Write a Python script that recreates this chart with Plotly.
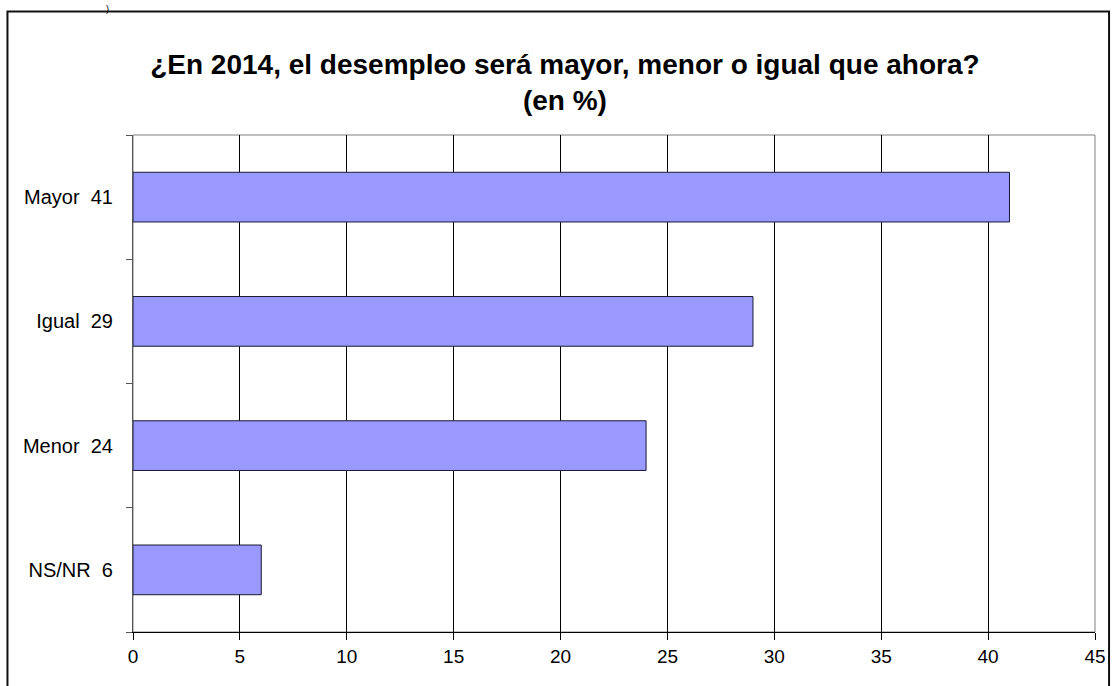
import plotly.graph_objects as go

categories = ["Mayor", "Igual", "Menor", "NS/NR"]
values = [41, 29, 24, 6]
tick_labels = [c + "\u00a0\u00a0" + str(v) for c, v in zip(categories, values)]

x_ticks = [0, 5, 10, 15, 20, 25, 30, 35, 40, 45]

fig = go.Figure()
fig.add_trace(go.Bar(
    x=values,
    y=tick_labels,
    orientation="h",
    marker=dict(color="#9999FF", line=dict(color="#1a1a33", width=1)),
    width=0.4,
))

fig.update_layout(
    width=1112,
    height=686,
    margin=dict(l=133, r=17, t=135, b=54, autoexpand=False),
    paper_bgcolor="white",
    plot_bgcolor="white",
    showlegend=False,
    font=dict(family="Arial, Liberation Sans, sans-serif", size=18, color="black"),
    title=dict(
        text="<b>¿En 2014, el desempleo será mayor, menor o igual que ahora?<br>(en %)</b>",
        x=0.508, xanchor="center",
        y=0.8924, yanchor="middle",
        font=dict(size=28, color="black"),
    ),
)

fig.update_xaxes(
    range=[0, 45],
    tickvals=x_ticks,
    showgrid=True, gridcolor="black", gridwidth=1,
    showline=True, linecolor="black", linewidth=1,
    ticks="outside", ticklen=7, tickcolor="black",
    zeroline=False,
    tickfont=dict(size=19),
)
fig.update_yaxes(
    categoryorder="array",
    categoryarray=tick_labels[::-1],
    showgrid=False,
    showline=True, linecolor="#555555", linewidth=1,
    ticks="outside", ticklen=6, tickcolor="#555555",
    tickson="boundaries",
    ticklabelstandoff=15,
    tickfont=dict(size=20),
)

# grey frame of plot area
fig.add_shape(type="rect", xref="paper", yref="paper", x0=0, x1=1, y0=0, y1=1,
              line=dict(color="#808080", width=1), layer="below")
# outer chart border (bottom cut off)
fig.add_shape(type="rect", xref="paper", yref="paper",
              x0=-0.1305, x1=1.0146, y0=-0.2, y1=1.2485,
              line=dict(color="#111111", width=2))
fig.add_annotation(text=")", xref="paper", yref="paper", x=-0.026, y=1.268,
                   xanchor="center", yanchor="top", showarrow=False,
                   font=dict(size=9, color="black"))

fig.write_html(
    "out.html",
    config={"displayModeBar": False, "responsive": False},
    post_script="document.body.style.margin='0';document.body.style.overflow='hidden';",
)
